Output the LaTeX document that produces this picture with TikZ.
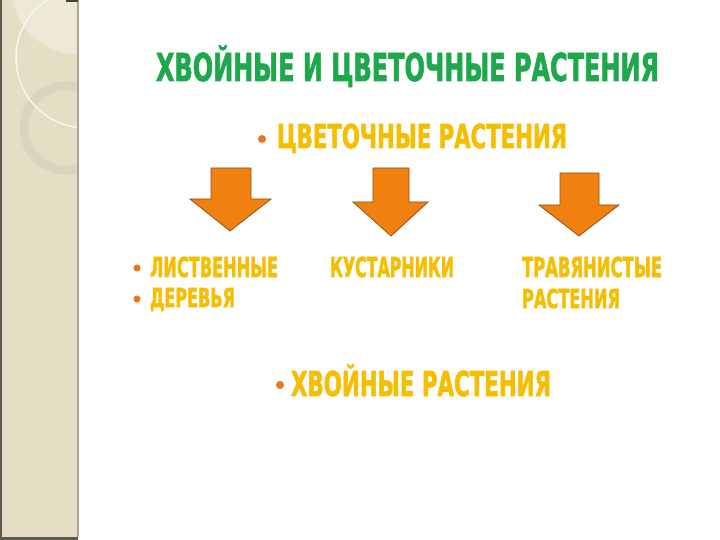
\documentclass[tikz,border=0pt]{standalone}
\usepackage{fontspec}
\usepackage{graphicx}
\newfontfamily\imp[BoldFeatures={FakeBold=2}]{DejaVu Sans Condensed}
\definecolor{bandc}{RGB}{229,222,196}
\definecolor{bandlight}{RGB}{238,233,214}
\definecolor{ringc}{RGB}{218,211,190}
\definecolor{greent}{RGB}{30,168,76}
\definecolor{yellowt}{RGB}{246,190,0}
\definecolor{bulletc}{RGB}{232,118,30}
\definecolor{arrowfill}{RGB}{240,128,16}
\definecolor{arrowedge}{RGB}{150,80,20}
\newcommand\fitt[3]{\resizebox{#1}{#2}{\imp\bfseries\smash{#3}\vphantom{X}}}
\tikzset{
  lbl/.style={anchor=base west, inner sep=0pt, outer sep=0pt},
  bul/.style={circle, fill=bulletc, inner sep=0pt, minimum size=#1},
  blockarrow/.style={fill=arrowfill, draw=arrowedge, line width=0.8pt, line join=miter}
}
\begin{document}
\begin{tikzpicture}[x=1pt,y=-1pt]
\useasboundingbox (0,0) rectangle (720,540);
\fill[white] (0,0) rectangle (720,540);
% left band
\begin{scope}
\clip (0,0) rectangle (78,540);
\fill[bandc] (0,0) rectangle (78,540);
\fill[bandlight] (78,-12) circle[radius=66];
\draw[ringc, line width=9pt] (66,128) circle[radius=42];
\draw[white!60!bandlight, line width=1.5pt] (86,58) circle[radius=70];
\draw[white!30!bandc, line width=0.8pt] (78,-12) circle[radius=66];
\end{scope}
\fill[black!60!bandc] (0,0) rectangle (2,540);
\fill[black!60!bandc] (0,537) rectangle (78,540);
\fill[black!25!bandc] (76.5,0) rectangle (78.5,537);
\fill[black!70!bandc] (66,0) rectangle (78,2);
% title
\node[lbl, text=greent] (title) at (156,81) {\fitt{503pt}{28pt}{ХВОЙНЫЕ И ЦВЕТОЧНЫЕ РАСТЕНИЯ}};
% subtitle
\node[bul=8pt] (b0) at (262,139) {};
\node[lbl, text=yellowt] (flow) at (277,148) {\fitt{290pt}{24pt}{ЦВЕТОЧНЫЕ РАСТЕНИЯ}};
% arrows
\path[blockarrow] (211,168) -- (251,168) -- (251,199) -- (271,199) -- (230,231) -- (190,199) -- (211,199) -- cycle;
\path[blockarrow] (373,168) -- (409,168) -- (409,202) -- (428,202) -- (391,236) -- (353,202) -- (373,202) -- cycle;
\path[blockarrow] (560,173) -- (599,173) -- (599,205) -- (619,205) -- (579,236) -- (539,205) -- (560,205) -- cycle;
% list
\node[bul=7pt] (b1) at (137,268) {};
\node[lbl, text=yellowt] (t1) at (150,277) {\fitt{128pt}{20pt}{ЛИСТВЕННЫЕ}};
\node[bul=7pt] (b2) at (137,299) {};
\node[lbl, text=yellowt] (t2) at (150,307) {\fitt{85pt}{19pt}{ДЕРЕВЬЯ}};
\node[lbl, text=yellowt] (t3) at (330,277) {\fitt{124pt}{20pt}{КУСТАРНИКИ}};
\node[lbl, text=yellowt] (t4) at (522,277) {\fitt{140pt}{20pt}{ТРАВЯНИСТЫЕ}};
\node[lbl, text=yellowt] (t5) at (522,308) {\fitt{98pt}{19pt}{РАСТЕНИЯ}};
% conifers
\node[bul=8pt] (b3) at (280,385) {};
\node[lbl, text=yellowt] (con) at (291,396) {\fitt{260pt}{25pt}{ХВОЙНЫЕ РАСТЕНИЯ}};
\end{tikzpicture}
\end{document}
